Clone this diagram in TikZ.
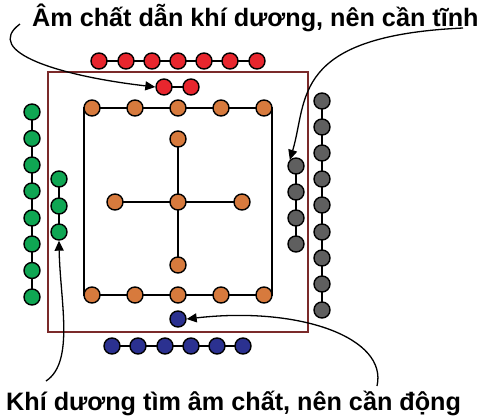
\documentclass[tikz,border=0pt]{standalone}
\usepackage{fontspec}
\setmainfont{Liberation Sans}
\usetikzlibrary{arrows.meta}
\definecolor{cred}{HTML}{E8262E}
\definecolor{corange}{HTML}{D77A3D}
\definecolor{cgreen}{HTML}{0FA653}
\definecolor{cgray}{HTML}{5F5F5F}
\definecolor{cblue}{HTML}{2B3190}
\definecolor{cbox}{HTML}{7B2A2A}
\tikzset{
  ball/.style={circle, draw=black, line width=1.4pt, minimum size=16pt, inner sep=0pt},
  link/.style={draw=black, line width=1.6pt},
  callout/.style={draw=black, line width=1.3pt, -{Triangle[length=10pt,width=9pt]}},
  label/.style={font=\bfseries\fontsize{25.2}{28}\selectfont, inner sep=0pt}
}
\begin{document}
\begin{tikzpicture}[x=1pt,y=-1pt]
\useasboundingbox (0,0) rectangle (483,418);
% frame
\node[draw=cbox, line width=1.2pt, minimum width=260pt, minimum height=260pt, inner sep=0pt] (frame) at (178,202) {};
% orange rectangle lines
\draw[link] (84,108) rectangle (272,295);
% cross
\draw[link] (178,139) -- (178,265);
\draw[link] (115,202) -- (242,202);
% orange rows
\foreach \i/\x in {1/92,2/135,3/178,4/221,5/264} {\node[ball, fill=corange] (ot\i) at (\x,108) {};}
\foreach \i/\x in {1/92,2/135,3/178,4/221,5/264} {\node[ball, fill=corange] (ob\i) at (\x,295) {};}
\node[ball, fill=corange] (cT) at (178,139) {};
\node[ball, fill=corange] (cL) at (115,202) {};
\node[ball, fill=corange] (cC) at (178,202) {};
\node[ball, fill=corange] (cR) at (242,202) {};
\node[ball, fill=corange] (cB) at (178,265) {};
% red top row
\draw[link] (99,61) -- (257,61);
\foreach \i/\x in {1/99,2/126,3/152,4/178,5/204,6/230,7/257} {\node[ball, fill=cred] (r\i) at (\x,61) {};}
\draw[link] (164,87) -- (191,87);
\node[ball, fill=cred] (rs1) at (164,87) {};
\node[ball, fill=cred] (rs2) at (191,87) {};
% green
\draw[link] (32,112) -- (32,297);
\foreach \i/\y in {1/112,2/138.5,3/165,4/191,5/218,6/244,7/270.5,8/297} {\node[ball, fill=cgreen] (g\i) at (32,\y) {};}
\draw[link] (59,179) -- (59,232);
\foreach \i/\y in {1/179,2/206,3/232} {\node[ball, fill=cgreen] (gs\i) at (59,\y) {};}
% gray
\draw[link] (296,166) -- (296,244);
\foreach \i/\y in {1/166,2/192,3/218,4/244} {\node[ball, fill=cgray] (ks\i) at (296,\y) {};}
\draw[link] (322,101) -- (322,310);
\foreach \i/\y in {1/101,2/127,3/153,4/179,5/205,6/232,7/258,8/284,9/310} {\node[ball, fill=cgray] (k\i) at (322,\y) {};}
% blue
\node[ball, fill=cblue] (bs) at (178,319) {};
\draw[link] (112,346) -- (243,346);
\foreach \i/\x in {1/112,2/138,3/165,4/191,5/217,6/243} {\node[ball, fill=cblue] (b\i) at (\x,346) {};}
% labels
\node[label, anchor=west] (top) at (32,18) {Âm chất dẫn khí dương, nên cần tĩnh};
\node[label, anchor=west] (bot) at (6,403) {Khí dương tìm âm chất, nên cần động};
\coordinate (a1) at (20,24);
\coordinate (a2) at (463,28);
\coordinate (a3) at (46,381);
\coordinate (a4) at (377,386);
\draw[callout] (a1) .. controls (-18,52) and (60,76) .. (rs1.west);
\draw[callout] (a2) .. controls (290,36) and (308,100) .. (ks1.north west);
\draw[callout] (a3) .. controls (75,362) and (60,300) .. (gs3.south);
\draw[callout] (a4) .. controls (388,338) and (300,306) .. (bs.east);
\end{tikzpicture}
\end{document}
